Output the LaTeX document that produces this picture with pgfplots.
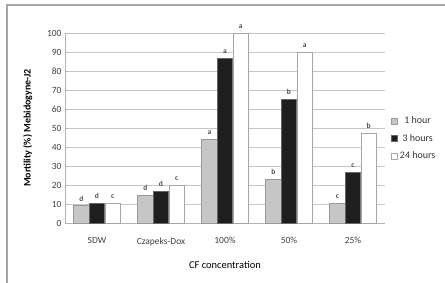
\documentclass[border=0pt]{standalone}
\usepackage{pgfplots}
\pgfplotsset{compat=1.18}
\usepackage{pgfplotstable}
\usepackage{fontspec}
\setmainfont{Carlito}
\pgfplotstableread{
x y lab
0 9 d
1 14.5 d
2 44 a
3 23 b
4 10.5 c
}\onehour
\pgfplotstableread{
x y lab
0 10.5 d
1 16.5 d
2 86.5 a
3 65 b
4 26.5 c
}\threehours
\pgfplotstableread{
x y lab
0 10.5 c
1 20 c
2 100 a
3 90 a
4 47 b
}\tfhours
\begin{document}
\begin{tikzpicture}
\useasboundingbox (0,0) rectangle (445bp,283bp);
\draw[gray!70, line width=1.2bp] (7bp,0) -- (7bp,278bp) -- (445bp,278bp);
\begin{axis}[
  at={(65bp,60bp)}, anchor=south west,
  scale only axis, width=320bp, height=190bp,
  ybar=0.3bp, bar width=15.3bp,
  xmin=-0.5, xmax=4.5, ymin=0, ymax=100,
  xtick=data, xticklabels={SDW, Czapeks-Dox, 100\%, 50\%, 25\%},
  ytick={0,10,...,100},
  ymajorgrids, grid style={gray!45, line width=0.6bp},
  axis x line*=bottom, axis y line*=left,
  axis line style={gray!60, line width=0.8bp},
  x axis line style={-}, y axis line style={-},
  xtick style={draw=none},
  ytick style={gray!60},
  major tick length=3bp,
  tick label style={font=\fontsize{9.5}{10}\selectfont, text=black!75},
  /pgf/number format/assume math mode=true,
  xticklabel style={yshift=-8bp},
  xlabel={CF concentration},
  xlabel style={font=\fontsize{10.5}{12}\selectfont, yshift=-9bp},
  ylabel={\textbf{Mortility (\%) Mebidogyne-J2}},
  ylabel style={font=\fontsize{10}{11}\selectfont, yshift=8bp},
  nodes near coords,
  point meta=explicit symbolic,
  every node near coord/.append style={font=\bfseries\fontsize{7.5}{8}\selectfont, text=black!70, yshift=1bp},
  legend style={at={(1.01,0.58)}, anchor=north west, draw=none, fill=none,
    font=\fontsize{10}{12}\selectfont, row sep=5bp, text=black!80,
    /tikz/every even column/.append style={column sep=1bp}},
  legend image code/.code={\draw[#1, line width=0.6bp] (0bp,-3bp) rectangle (6bp,3bp);},
  clip=false,
]
\addplot[fill=gray!45, draw=gray!80, line width=0.8bp] table[x=x, y=y, meta=lab] {\onehour};
\addplot[fill=black!88, draw=black!60, line width=0.6bp] table[x=x, y=y, meta=lab] {\threehours};
\addplot[fill=white, draw=gray!70, line width=0.8bp] table[x=x, y=y, meta=lab] {\tfhours};
\legend{1 hour, 3 hours, 24 hours}
\end{axis}
\end{tikzpicture}
\end{document}
